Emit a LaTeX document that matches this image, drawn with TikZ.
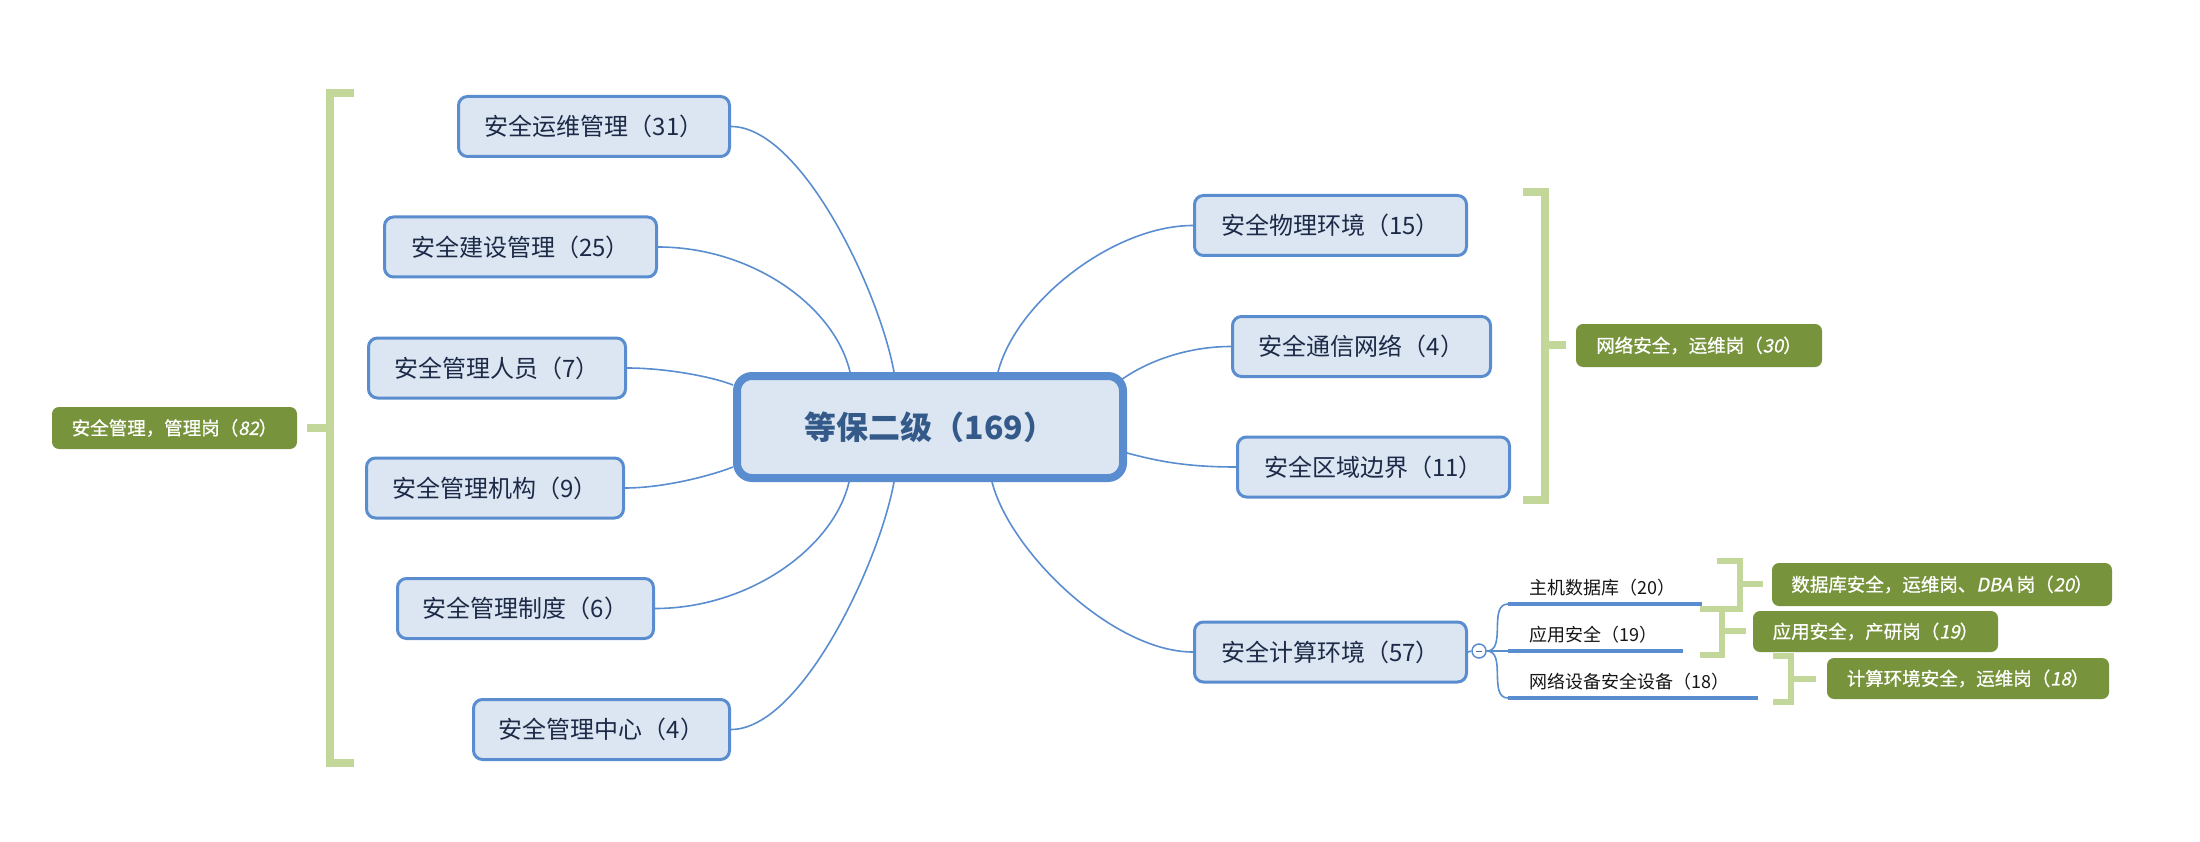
\documentclass[tikz,border=0pt]{standalone}
\usepackage{fontspec}
\setmainfont{Noto Sans CJK SC}
\newfontfamily\slfont[FakeSlant=0.2]{Noto Sans CJK SC}
\newfontfamily\tagfont[FakeBold=0.8]{Noto Sans CJK SC}
\newfontfamily\tagslfont[FakeBold=0.8,FakeSlant=0.2]{Noto Sans CJK SC}
\newcommand{\itnum}[1]{{\tagslfont #1}}
\usetikzlibrary{backgrounds}
\definecolor{topicfill}{HTML}{DCE6F2}
\definecolor{topicline}{HTML}{5A8DD0}
\definecolor{topictext}{HTML}{1C2A47}
\definecolor{roottext}{HTML}{345A8A}
\definecolor{tagfill}{HTML}{77933C}
\definecolor{bracegreen}{HTML}{C4D79B}
\definecolor{subtext}{HTML}{151515}
\begin{document}
\begin{tikzpicture}[x=1pt,y=-1pt,
  topic/.style={draw=topicline, line width=3pt, fill=topicfill, rounded corners=9pt,
    minimum height=60pt, text=topictext, font=\fontsize{24}{28}\selectfont, inner sep=0pt},
  root/.style={draw=topicline, line width=8pt, fill=topicfill, rounded corners=15pt,
    minimum width=386pt, minimum height=102pt, text=roottext,
    font=\fontsize{32}{38}\selectfont\bfseries, inner sep=0pt},
  tag/.style={fill=tagfill, rounded corners=7pt, text=white,
    font=\fontsize{18.5}{22}\tagfont, inner sep=0pt, minimum height=42pt},
  sub/.style={anchor=south west, inner xsep=21pt, inner ysep=0pt, text height=16pt,
    text depth=9.5pt, align=left, font=\fontsize{18}{21}\selectfont, text=subtext},
  uline/.style={draw=topicline, line width=4pt},
  link/.style={draw=topicline, line width=1.6pt},
  brace/.style={draw=bracegreen, line width=8pt, line join=miter},
  smallbrace/.style={draw=bracegreen, line width=6pt, line join=miter},
  toggle/.style={circle, draw=topicline, line width=1.5pt, fill=white,
    minimum size=14pt, inner sep=0pt},
]
\useasboundingbox (0,0) rectangle (2200,842);

% central topic
\node[root] (root) at (930,427) {等保二级（169）};

% main topics, left side
\node[topic, minimum width=271pt] (n1) at (594,126.5) {安全运维管理（31）};
\node[topic, minimum width=272pt] (n2) at (520.5,247) {安全建设管理（25）};
\node[topic, minimum width=257pt] (n3) at (497,368) {安全管理人员（7）};
\node[topic, minimum width=257pt] (n4) at (495,488) {安全管理机构（9）};
\node[topic, minimum width=256pt] (n5) at (525.5,608.5) {安全管理制度（6）};
\node[topic, minimum width=256pt] (n6) at (601.5,729.5) {安全管理中心（4）};

% main topics, right side
\node[topic, minimum width=272pt] (n7) at (1330.5,225.5) {安全物理环境（15）};
\node[topic, minimum width=258pt] (n8) at (1361.5,346.5) {安全通信网络（4）};
\node[topic, minimum width=272pt] (n9) at (1373.5,467) {安全区域边界（11）};
\node[topic, minimum width=272pt] (n10) at (1330.5,652) {安全计算环境（57）};

% collapse toggle and subtopics
\node[toggle] (tog) at (1479,651) {};
\draw[topicline!80!black, line width=1pt] ([xshift=-3pt]tog.center) -- ([xshift=3pt]tog.center);

\node[sub, text width=152pt] (s1) at (1508,604) {主机数据库（20）};
\node[sub, text width=133pt] (s2) at (1508,651) {应用安全（19）};
\node[sub, text width=208pt] (s3) at (1508,698) {网络设备安全设备（18）};
\draw[uline] (s1.south west) -- (s1.south east);
\draw[uline] (s2.south west) -- (s2.south east);
\draw[uline] (s3.south west) -- (s3.south east);

% summary tags
\node[tag, minimum width=245pt] (t1) at (174.5,428) {安全管理，管理岗（\itnum{82}）};
\node[tag, minimum width=246pt, minimum height=43pt] (t2) at (1699,345.5) {网络安全，运维岗（\itnum{30}）};
\node[tag, minimum width=340pt, minimum height=43pt] (t3) at (1942,584.5) {数据库安全，运维岗、\itnum{DBA} 岗（\itnum{20}）};
\node[tag, minimum width=245pt, minimum height=41pt] (t4) at (1875.5,631.5) {应用安全，产研岗（\itnum{19}）};
\node[tag, minimum width=282pt, minimum height=41pt] (t5) at (1968,678.5) {计算环境安全，运维岗（\itnum{18}）};

% summary brackets
\draw[brace] (354,93) -- (330,93) -- (330,763) -- (354,763);
\draw[brace] (330,428) -- (307,428);
\draw[brace] (1523,192) -- (1545,192) -- (1545,500) -- (1523,500);
\draw[brace] (1545,345) -- (1566,345);
\draw[smallbrace] (1717,561) -- (1740,561) -- (1740,609) -- (1700,609);
\draw[smallbrace] (1740,584) -- (1763,584);
\draw[smallbrace] (1700,609) -- (1722,609) -- (1722,655) -- (1700,655);
\draw[smallbrace] (1722,631) -- (1746,631);
\draw[smallbrace] (1773,656) -- (1791,656) -- (1791,702) -- (1773,702);
\draw[smallbrace] (1791,679) -- (1816,679);

% branch curves, kept behind the topics
\begin{pgfonlayer}{background}
\draw[link] ([xshift=-36pt]root.north) .. controls +(-15,-82) and +(70,0) .. (n1.east);
\draw[link] ([xshift=-80pt]root.north) .. controls +(-15,-65) and +(95,0) .. (n2.east);
\draw[link] ([yshift=42pt]root.west) .. controls +(-20,-8) and +(40,0) .. (n3.east);
\draw[link] ([yshift=-40pt]root.west) .. controls +(-20,8) and +(40,0) .. (n4.east);
\draw[link] ([xshift=-81pt]root.south) .. controls +(-15,65) and +(95,0) .. (n5.east);
\draw[link] ([xshift=-36pt]root.south) .. controls +(-15,82) and +(70,0) .. (n6.east);
\draw[link] ([xshift=68pt]root.north) .. controls +(18,-70) and +(-80,0) .. (n7.west);
\draw[link] ([xshift=-6pt,yshift=47pt]root.east) .. controls +(25,-18) and +(-45,0) .. (n8.west);
\draw[link] ([yshift=-26pt]root.east) .. controls +(30,8) and +(-50,0) .. (n9.west);
\draw[link] ([xshift=62pt]root.south) .. controls +(18,70) and +(-80,0) .. (n10.west);
\draw[link] (n10.east) -- (tog.west);
\draw[link] (tog.east) to[out=0,in=180] (s1.south west);
\draw[link] (tog.east) -- (s2.south west);
\draw[link] (tog.east) to[out=0,in=180] (s3.south west);
\end{pgfonlayer}
\end{tikzpicture}
\end{document}
